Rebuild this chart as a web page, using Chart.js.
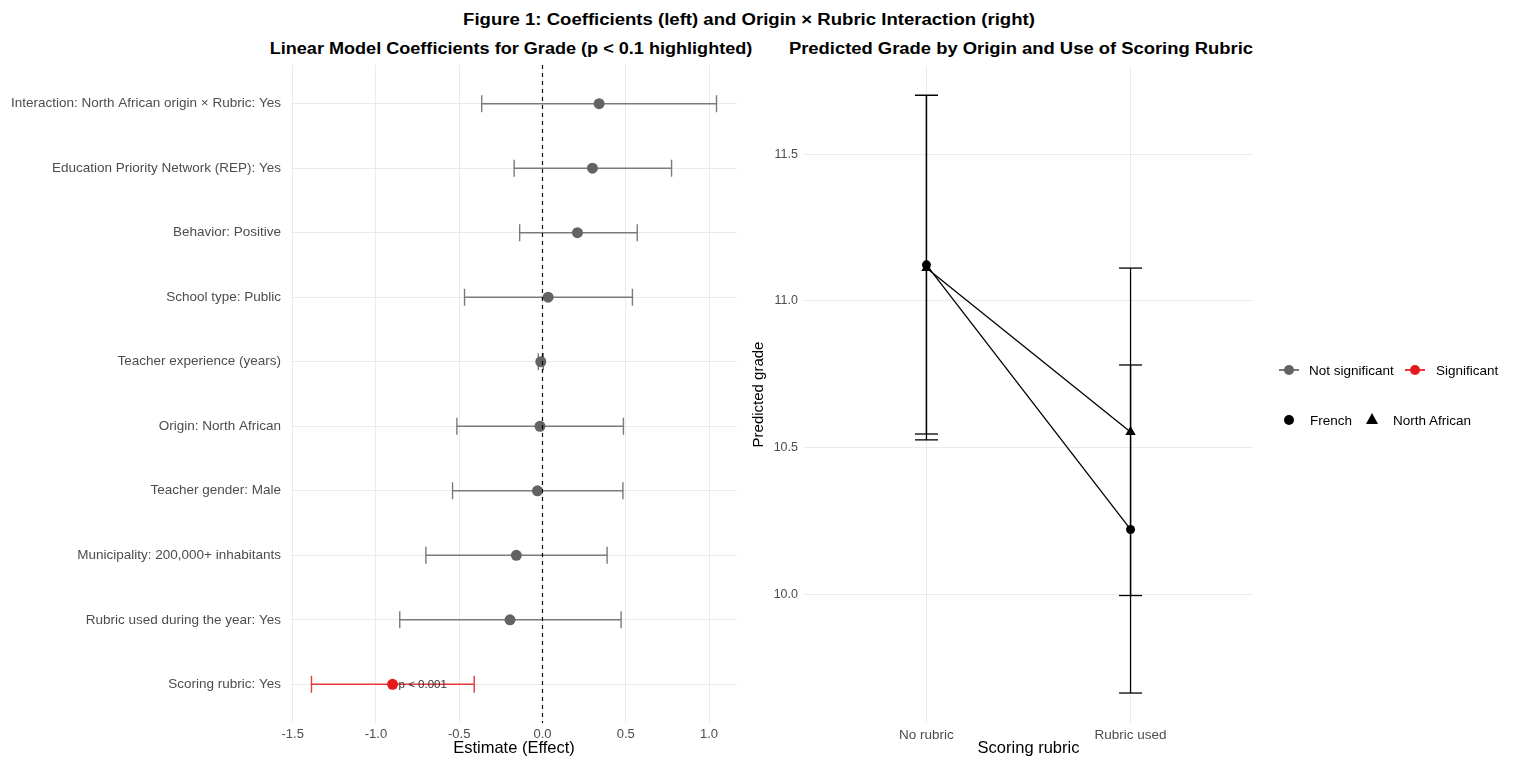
<!DOCTYPE html>
<html>
<head>
<meta charset="utf-8">
<script src="https://cdn.jsdelivr.net/npm/chart.js@4.4.0/dist/chart.umd.min.js"></script>
<style>
  body { margin: 0; background: #fff; width: 1514px; height: 758px; overflow: hidden; position: relative;
         font-family: "Liberation Sans", Arial, sans-serif; }
  .txt { position: absolute; white-space: nowrap; color: #000; }
  .bold { font-weight: bold; font-size: 16px; }
  #coefWrap { position: absolute; left: 0; top: 0; width: 750px; height: 758px; }
  #interWrap { position: absolute; left: 745px; top: 0; width: 769px; height: 758px; }
  .leg { position: absolute; font-size: 13.5px; color: #000; white-space: nowrap; transform: translateY(-50%); }
  .key { position: absolute; }
  .key .ln { position: absolute; left: 0; top: 50%; width: 20px; height: 1.5px; margin-top: -0.75px; }
  .key .dot { position: absolute; left: 5px; top: 50%; width: 10px; height: 10px; margin-top: -5px; border-radius: 50%; }
  .tri { position: absolute; width: 0; height: 0; border-left: 6.5px solid transparent; border-right: 6.5px solid transparent;
         border-bottom: 11px solid #000; }
</style>
</head>
<body>
<div class="txt bold" style="left:748.5px; top:20px; transform: translate(-50%, -50%) scaleX(1.16);">Figure 1: Coefficients (left) and Origin × Rubric Interaction (right)</div>
<div class="txt bold" style="left:511px; top:49px; transform: translate(-50%, -50%) scaleX(1.13);">Linear Model Coefficients for Grade (p &lt; 0.1 highlighted)</div>
<div class="txt bold" style="left:1020.5px; top:49px; transform: translate(-50%, -50%) scaleX(1.15);">Predicted Grade by Origin and Use of Scoring Rubric</div>

<div id="coefWrap"><canvas id="coefChart"></canvas></div>
<div id="interWrap"><canvas id="interChart"></canvas></div>

<!-- legend -->
<div class="key" style="left:1279px; top:362px; width:20px; height:16px;">
  <div class="ln" style="background:#7a7a7a"></div><div class="dot" style="background:#636363"></div>
</div>
<div class="leg" style="left:1309px; top:370px;">Not significant</div>
<div class="key" style="left:1405px; top:362px; width:20px; height:16px;">
  <div class="ln" style="background:#e8393b"></div><div class="dot" style="background:#e41a1c"></div>
</div>
<div class="leg" style="left:1436px; top:370px;">Significant</div>
<div class="key" style="left:1284px; top:415px; width:10px; height:10px; border-radius:50%; background:#000;"></div>
<div class="leg" style="left:1310px; top:420px;">French</div>
<div class="tri" style="left:1365.5px; top:413px;"></div>
<div class="leg" style="left:1393px; top:420px;">North African</div>

<script>
// ---- left panel: model coefficients (top to bottom) ----
const termLabels = [
  'Interaction: North African origin × Rubric: Yes',
  'Education Priority Network (REP): Yes',
  'Behavior: Positive',
  'School type: Public',
  'Teacher experience (years)',
  'Origin: North African',
  'Teacher gender: Male',
  'Municipality: 200,000+ inhabitants',
  'Rubric used during the year: Yes',
  'Scoring rubric: Yes',
];
const estimates = [0.34, 0.30, 0.21, 0.034, -0.01, -0.015, -0.03, -0.157, -0.195, -0.90];
const ciLower = [-0.365, -0.17, -0.137, -0.468, -0.025, -0.514, -0.54, -0.70, -0.857, -1.387];
const ciUpper = [1.045, 0.775, 0.569, 0.54, 0.005, 0.486, 0.483, 0.388, 0.472, -0.41];
const significant = [false, false, false, false, false, false, false, false, false, true];
const pLabels = ['', '', '', '', '', '', '', '', '', 'p < 0.001'];
const effectTicks = [-1.5, -1.0, -0.5, 0.0, 0.5, 1.0];

// ---- right panel: predicted grade ----
const rubricLevels = ['No rubric', 'Rubric used'];
const frenchGrade = [11.123, 10.222];
const frenchLower = [10.547, 9.665];
const frenchUpper = [11.70, 10.782];
const northAfricanGrade = [11.112, 10.554];
const northAfricanLower = [10.527, 9.997];
const northAfricanUpper = [11.70, 11.112];
const gradeTicks = [10.0, 10.5, 11.0, 11.5];

const GRID = '#ebebeb';
const TICK_COLOR = '#4d4d4d';
const FONT = '"Liberation Sans", Arial, sans-serif';
const greyPoint = '#636363', greyBar = '#7a7a7a';
const redPoint = '#e41a1c', redBar = '#e8393b';

Chart.defaults.font.family = FONT;

// draws the p-value text next to the estimate
const pLabelPlugin = {
  id: 'pLabels',
  afterDatasetsDraw(chart) {
    const { ctx, scales } = chart;
    ctx.save();
    ctx.font = '11.5px ' + FONT;
    ctx.fillStyle = '#333';
    ctx.textBaseline = 'middle';
    ctx.textAlign = 'left';
    pLabels.forEach((txt, i) => {
      if (!txt) return;
      ctx.fillText(txt, scales.x.getPixelForValue(estimates[i]) + 6, scales.y.getPixelForValue(i) + 1);
    });
    ctx.restore();
  },
};

const coefDatasets = [
  {
    // zero reference line
    type: 'line',
    data: [{ x: 0, y: -0.6 }, { x: 0, y: 9.6 }],
    borderColor: '#000',
    borderWidth: 1.2,
    borderDash: [4, 4],
    pointRadius: 0,
    order: 0,
  },
  {
    type: 'scatter',
    data: estimates.map((v, i) => ({ x: v, y: i })),
    pointRadius: 5.5,
    pointBackgroundColor: significant.map((s) => (s ? redPoint : greyPoint)),
    pointBorderWidth: 0,
    order: 1,
  },
];
estimates.forEach((v, i) => {
  const col = significant[i] ? redBar : greyBar;
  coefDatasets.push({
    type: 'line',
    data: [{ x: ciLower[i], y: i }, { x: ciUpper[i], y: i }],
    borderColor: col,
    borderWidth: 1.4,
    pointStyle: 'line',
    rotation: 90,
    pointRadius: 8.5,
    pointBorderColor: col,
    pointBorderWidth: 1.4,
    order: 2,
  });
});

new Chart(document.getElementById('coefChart'), {
  type: 'scatter',
  data: { datasets: coefDatasets },
  options: {
    responsive: true,
    maintainAspectRatio: false,
    animation: false,
    events: [],
    layout: { padding: { left: 0, top: 65, right: 13, bottom: 0 } },
    plugins: { legend: { display: false }, tooltip: { enabled: false } },
    scales: {
      x: {
        type: 'linear',
        min: -1.51,
        max: 1.168,
        afterBuildTicks: (s) => { s.ticks = effectTicks.map((v) => ({ value: v })); },
        afterFit: (s) => { s.height = 35; },
        ticks: { callback: (v) => v.toFixed(1), color: TICK_COLOR, font: { size: 13 }, padding: 4, maxRotation: 0 },
        grid: { color: GRID, lineWidth: 1, drawTicks: false },
        border: { display: false },
        title: { display: true, text: 'Estimate (Effect)', color: '#000', font: { size: 16.5 }, padding: 0 },
      },
      y: {
        type: 'linear',
        min: -0.6,
        max: 9.6,
        reverse: true,
        afterBuildTicks: (s) => { s.ticks = termLabels.map((_, i) => ({ value: i })); },
        afterFit: (s) => { s.width = 291; },
        ticks: { callback: (v) => termLabels[v], color: TICK_COLOR, font: { size: 13.5 }, padding: 10, autoSkip: false },
        grid: { color: GRID, lineWidth: 1, drawTicks: false },
        border: { display: false },
      },
    },
  },
  plugins: [pLabelPlugin],
});

// ---- right panel ----
const interDatasets = [
  {
    type: 'line',
    label: 'French',
    data: frenchGrade.map((v, i) => ({ x: i, y: v })),
    borderColor: '#000',
    borderWidth: 1.3,
    pointStyle: 'circle',
    pointRadius: 4.5,
    pointBackgroundColor: '#000',
    pointBorderWidth: 0,
    order: 0,
  },
  {
    type: 'line',
    label: 'North African',
    data: northAfricanGrade.map((v, i) => ({ x: i, y: v })),
    borderColor: '#000',
    borderWidth: 1.3,
    pointStyle: 'triangle',
    pointRadius: 6,
    pointBackgroundColor: '#000',
    pointBorderWidth: 0,
    order: 0,
  },
];
const errorBars = [
  [frenchLower, frenchUpper],
  [northAfricanLower, northAfricanUpper],
];
errorBars.forEach(([lo, hi]) => {
  rubricLevels.forEach((_, i) => {
    interDatasets.push({
      type: 'line',
      data: [{ x: i, y: lo[i] }, { x: i, y: hi[i] }],
      borderColor: '#000',
      borderWidth: 1.3,
      pointStyle: 'line',
      rotation: 0,
      pointRadius: 11.5,
      pointBorderColor: '#000',
      pointBorderWidth: 1.3,
      order: 1,
    });
  });
});

new Chart(document.getElementById('interChart'), {
  type: 'line',
  data: { datasets: interDatasets },
  options: {
    responsive: true,
    maintainAspectRatio: false,
    animation: false,
    events: [],
    layout: { padding: { left: 5, top: 66, right: 261, bottom: 0 } },
    plugins: { legend: { display: false }, tooltip: { enabled: false } },
    scales: {
      x: {
        type: 'linear',
        min: -0.6,
        max: 1.6,
        afterBuildTicks: (s) => { s.ticks = rubricLevels.map((_, i) => ({ value: i })); },
        afterFit: (s) => { s.height = 35; },
        ticks: { callback: (v) => rubricLevels[v], color: TICK_COLOR, font: { size: 13.5 }, padding: 4, maxRotation: 0 },
        grid: { color: GRID, lineWidth: 1, drawTicks: false },
        border: { display: false },
        title: { display: true, text: 'Scoring rubric', color: '#000', font: { size: 16.5 }, padding: 0 },
      },
      y: {
        type: 'linear',
        min: 9.563,
        max: 11.80,
        afterBuildTicks: (s) => { s.ticks = gradeTicks.map((v) => ({ value: v })); },
        afterFit: (s) => { s.width = 54; },
        ticks: { callback: (v) => v.toFixed(1), color: TICK_COLOR, font: { size: 12.5 }, padding: 6 },
        grid: { color: GRID, lineWidth: 1, drawTicks: false },
        border: { display: false },
        title: { display: true, text: 'Predicted grade', color: '#000', font: { size: 15 }, padding: 0 },
      },
    },
  },
});
</script>
</body>
</html>
